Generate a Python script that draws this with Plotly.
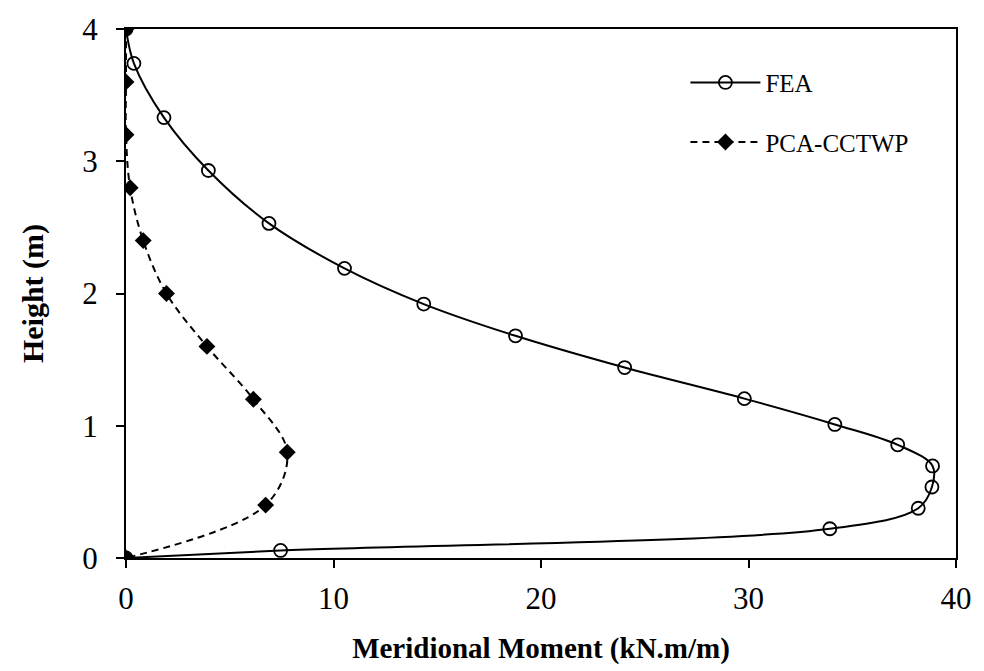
import plotly.graph_objects as go

# FEA series (Meridional moment kN.m/m vs height m)
fea_moment = [0.0, 0.38, 1.83, 3.97, 6.89, 10.53, 14.35, 18.77, 24.03, 29.8, 34.16, 37.19, 38.87, 38.84, 38.18, 33.92, 7.45, 0.0]
fea_height = [4.0, 3.74, 3.33, 2.93, 2.53, 2.19, 1.92, 1.68, 1.44, 1.205, 1.01, 0.856, 0.696, 0.537, 0.376, 0.221, 0.057, 0.0]

# PCA-CCTWP series
pca_moment = [0.0, 0.0, 0.0, 0.2, 0.83, 1.95, 3.9, 6.14, 7.77, 6.73, 0.0]
pca_height = [4.0, 3.6, 3.2, 2.8, 2.4, 2.0, 1.6, 1.2, 0.8, 0.4, 0.0]

x_ticks = [0, 10, 20, 30, 40]
y_ticks = [0, 1, 2, 3, 4]

FONT = "Liberation Serif, Times New Roman, serif"

fig = go.Figure()
fig.add_trace(go.Scatter(
    x=fea_moment, y=fea_height, name="FEA", mode="lines+markers",
    line=dict(color="black", width=2, shape="spline", smoothing=1),
    marker=dict(symbol="circle-open", size=13, color="black", line=dict(width=1.8)),
    legend="legend", showlegend=True,
))
fig.add_trace(go.Scatter(
    x=pca_moment, y=pca_height, name="PCA-CCTWP", mode="lines+markers",
    line=dict(color="black", width=2, shape="spline", smoothing=1, dash="7px,5px"),
    marker=dict(symbol="diamond", size=13, color="black"),
    legend="legend2", showlegend=True,
))

axis_common = dict(
    showgrid=False, zeroline=False, showline=True, linecolor="black", linewidth=2,
    mirror=True, ticks="outside", ticklen=8, tickwidth=2, tickcolor="black",
    tickfont=dict(family=FONT, size=31, color="black"),
)

fig.update_layout(
    width=984, height=671,
    margin=dict(l=126, r=22, t=18, b=111),
    paper_bgcolor="white", plot_bgcolor="white",
    showlegend=True,
    font=dict(family=FONT, color="black"),
    xaxis=dict(range=[0, 40], tickvals=x_ticks, ticklabelstandoff=4,
               title=dict(text="<b>Meridional Moment (kN.m/m)</b>", font=dict(family=FONT, size=29), standoff=22),
               **axis_common),
    yaxis=dict(range=[0, 4], tickvals=y_ticks, ticklabelstandoff=12,
               title=dict(text="<b>Height (m)</b>", font=dict(family=FONT, size=30), standoff=30),
               **axis_common),
    legend=dict(x=0.674, y=0.8985, xanchor="left", yanchor="middle", bgcolor="rgba(0,0,0,0)",
                font=dict(family=FONT, size=25), itemwidth=70),
    legend2=dict(x=0.674, y=0.786, xanchor="left", yanchor="middle", bgcolor="rgba(0,0,0,0)",
                 font=dict(family=FONT, size=25), itemwidth=70),
)

fig.write_html("out.html")
